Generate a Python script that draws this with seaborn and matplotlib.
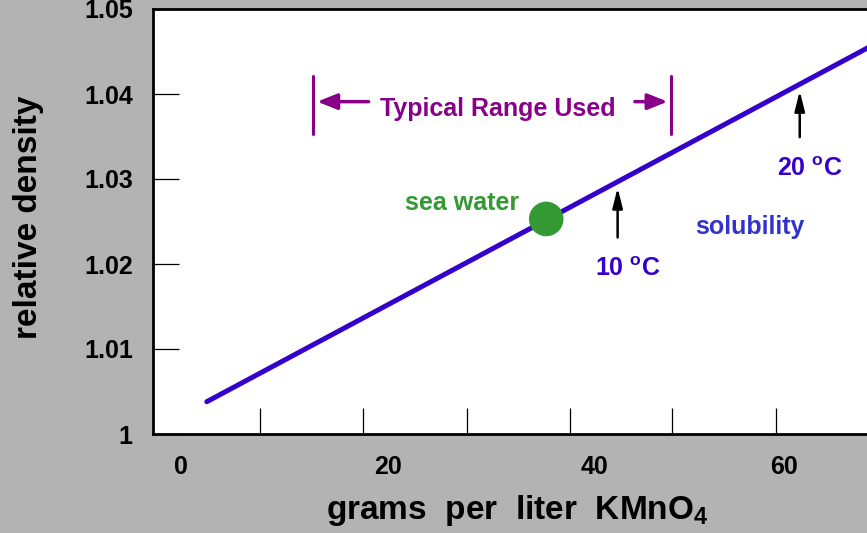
import matplotlib
matplotlib.use("Agg")
import matplotlib.pyplot as plt
import seaborn as sns
import pandas as pd

# solubility line (relative density vs g/L KMnO4)
line_x = [2.5, 70.0]
line_y = [1.0038, 1.0478]

# sea water point
seawater_x = [35.3]
seawater_y = [1.0253]

# typical range bracket
range_lo, range_hi = 12.8, 47.4
range_y_lo, range_y_hi, range_y_mid = 1.0353, 1.0421, 1.0391
range_arrow_tails = [18.4, 43.6]

# solubility limits marked by arrows
temp_labels = ["10 $^{\\mathbf{o}}$C", "20 $^{\\mathbf{o}}$C"]
temp_x = [42.2, 59.8]
temp_tip_y = [1.0293, 1.0407]
temp_tail_y = [1.0228, 1.0346]

# x labels as printed on the original drawing (the "60" sits a bit left)
x_label_pos = [0, 20, 40, 58.3]
x_ticklabels = ["0", "20", "40", "60"]
x_tickmarks = [7.6, 17.6, 27.6, 37.6, 47.5, 57.5]
y_ticks = [1.0, 1.01, 1.02, 1.03, 1.04, 1.05]
y_ticklabels = ["1", "1.01", "1.02", "1.03", "1.04", "1.05"]

BLUE = "#3300cc"
PURPLE = "#880088"
GREEN = "#339933"
GREY = "#b3b3b3"

sns.set_theme(style="white")
plt.rcParams["font.family"] = ["Liberation Sans", "DejaVu Sans"]
plt.rcParams["font.weight"] = "bold"
plt.rcParams["text.color"] = "black"
plt.rcParams["axes.labelcolor"] = "black"
plt.rcParams["xtick.color"] = "black"
plt.rcParams["ytick.color"] = "black"
plt.rcParams["mathtext.fontset"] = "custom"
plt.rcParams["mathtext.rm"] = "Liberation Sans:bold"
plt.rcParams["mathtext.bf"] = "Liberation Sans:bold"

fig = plt.figure(figsize=(8.67, 5.33), dpi=100, facecolor=GREY)
ax = fig.add_axes([153 / 867, 1 - 434 / 533, 714 / 867, 425 / 533])
ax.set_facecolor("white")

df = pd.DataFrame({"x": line_x, "y": line_y})
sns.lineplot(data=df, x="x", y="y", ax=ax, color=BLUE, linewidth=3.6)
sns.scatterplot(x=seawater_x, y=seawater_y, ax=ax, color=GREEN, s=620,
                edgecolor="none", zorder=5)

ax.set_xlim(-2.7, 66.3)
ax.set_ylim(1.0, 1.05)

for side in ["left", "top", "bottom"]:
    ax.spines[side].set_color("black")
    ax.spines[side].set_linewidth(2.0)
ax.spines["right"].set_visible(False)

ax.set_xticks(x_label_pos)
ax.set_xticklabels(x_ticklabels)
ax.set_xticks(x_tickmarks, minor=True)
ax.tick_params(axis="x", which="major", length=0, pad=15, labelsize=18,
               labelcolor="black")
ax.tick_params(axis="x", which="minor", direction="in", length=19, width=0.9,
               color="black", bottom=True)
ax.set_yticks(y_ticks)
ax.set_yticklabels(y_ticklabels)
ax.tick_params(axis="y", which="major", direction="in", length=19, width=0.9,
               color="black", pad=14.5, labelsize=18, left=True, labelcolor="black")

ax.set_xlabel("grams  per  liter  KMnO$_4$", fontsize=24, fontweight="bold",
              color="black")
ax.xaxis.set_label_coords(0.51, -0.138)
ax.set_ylabel("relative density", fontsize=24, fontweight="bold", color="black")
ax.yaxis.set_label_coords(-0.153, 0.51)

# typical range bracket
ax.plot([range_lo, range_lo], [range_y_lo, range_y_hi], color=PURPLE, lw=2.2)
ax.plot([range_hi, range_hi], [range_y_lo, range_y_hi], color=PURPLE, lw=2.2)
arrow_kw = dict(arrowstyle="-|>,head_width=0.4,head_length=1.0", color=PURPLE, lw=2.5)
for tip, tail in zip([range_lo + 0.1, range_hi - 0.1], range_arrow_tails):
    ax.annotate("", xy=(tip, range_y_mid), xytext=(tail, range_y_mid),
                arrowprops=arrow_kw)
ax.text(30.6, range_y_mid - 0.0009, "Typical Range Used", color=PURPLE,
        fontsize=18, fontweight="bold", ha="center", va="center")

# temperature arrows
for lbl, tx, tip, tail in zip(temp_labels, temp_x, temp_tip_y, temp_tail_y):
    ax.annotate("", xy=(tx, tip), xytext=(tx, tail),
                arrowprops=dict(arrowstyle="-|>,head_width=0.25,head_length=1.0",
                                color="black", lw=1.8))
    ax.text(tx + 1.0, tail - 0.0034, lbl, color=BLUE, fontsize=18,
            fontweight="bold", ha="center", va="center")

ax.text(27.2, 1.0272, "sea water", color=GREEN, fontsize=18, fontweight="bold",
        ha="center", va="center")
ax.text(55.0, 1.0244, "solubility", color="#3333cc", fontsize=18,
        fontweight="bold", ha="center", va="center")

fig.savefig("out.png", dpi=100, facecolor=GREY)
